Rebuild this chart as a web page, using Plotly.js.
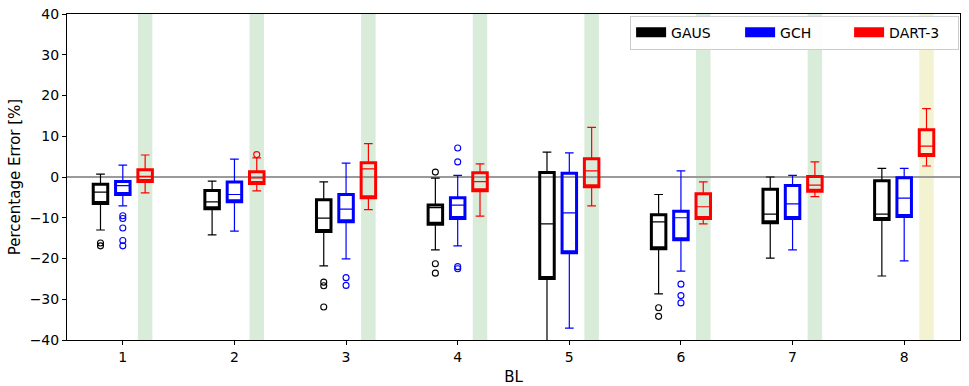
<!DOCTYPE html>
<html>
<head>
<meta charset="utf-8">
<script src="https://cdn.plot.ly/plotly-3.0.1.min.js"></script>
<style>
	html, body { margin: 0; padding: 0; background: #fff; }
	#chart { width: 969px; height: 386px; }
</style>
</head>
<body>
<div id="chart"></div>
<script>
const BL = [1, 2, 3, 4, 5, 6, 7, 8];

// GAUS
const gaus_lo  = [-13.0, -14.2, -21.8, -17.9, -44.0, -28.7, -19.9, -24.3];
const gaus_q1  = [-6.5, -7.8, -13.4, -11.6, -24.9, -17.6, -11.2, -10.4];
const gaus_med = [-3.7, -6.1, -10.1, -7.5, -11.5, -11.0, -9.1, -9.1];
const gaus_q3  = [-1.8, -3.3, -5.6, -6.9, 1.1, -9.25, -3.0, -0.9];
const gaus_hi  = [0.7, -1.0, -1.2, -0.3, 6.1, -4.3, 0.0, 2.1];
const gaus_out_bl = [1, 1, 3, 3, 3, 4, 4, 4, 6, 6];
const gaus_out    = [-16.2, -16.9, -25.8, -26.7, -31.9, 1.2, -21.3, -23.6, -32.1, -34.2];

// GCH
const gch_lo  = [-7.1, -13.3, -20.1, -16.9, -37.1, -23.1, -17.9, -20.6];
const gch_q1  = [-4.3, -6.1, -11.0, -10.2, -18.6, -15.4, -10.2, -9.7];
const gch_med = [-2.1, -4.3, -7.9, -6.9, -8.8, -10.0, -6.6, -5.2];
const gch_q3  = [-1.1, -1.2, -4.3, -5.1, 0.9, -8.4, -2.1, -0.2];
const gch_hi  = [2.9, 4.4, 3.4, 0.4, 5.9, 1.5, 0.4, 2.1];
const gch_out_bl = [1, 1, 1, 1, 1, 3, 3, 4, 4, 4, 4, 6, 6, 6];
const gch_out    = [-9.5, -10.2, -12.5, -15.6, -16.9, -24.7, -26.6, 7.1, 3.7, -22.0, -22.5, -26.3, -29.1, -30.9];

// DART-3
const dart_lo  = [-3.9, -3.4, -8.0, -9.6, -7.1, -11.5, -4.8, 2.7];
const dart_q1  = [-1.1, -1.6, -5.1, -3.4, -2.4, -10.2, -3.5, 5.3];
const dart_med = [0.15, -0.2, 2.0, -1.15, 1.5, -7.3, -2.0, 7.6];
const dart_q3  = [1.8, 1.3, 3.5, 1.05, 4.5, -4.1, 0.1, 11.6];
const dart_hi  = [5.4, 4.7, 8.2, 3.2, 12.2, -1.2, 3.7, 16.8];
const dart_out_bl = [2];
const dart_out    = [5.5];

// shaded band behind DART-3 per BL
const band_color = ['green', 'green', 'green', 'green', 'green', 'green', 'green', 'yellow'];

const BOX_W = 0.13;
const FONT = 'DejaVu Sans, sans-serif';

const series = [
	{name: 'GAUS', color: '#000000', offset: -0.2, lo: gaus_lo, q1: gaus_q1, med: gaus_med, q3: gaus_q3, hi: gaus_hi, out_bl: gaus_out_bl, out: gaus_out},
	{name: 'GCH', color: '#0000ff', offset: 0, lo: gch_lo, q1: gch_q1, med: gch_med, q3: gch_q3, hi: gch_hi, out_bl: gch_out_bl, out: gch_out},
	{name: 'DART-3', color: '#ff0000', offset: 0.2, lo: dart_lo, q1: dart_q1, med: dart_med, q3: dart_q3, hi: dart_hi, out_bl: dart_out_bl, out: dart_out}
];

const traces = [];

series.forEach(s => {
	const xs = BL.map(b => b + s.offset);
	//thin whiskers + median
	traces.push({
		type: 'box',
		x: xs,
		q1: s.q1, median: s.med, q3: s.q3,
		lowerfence: s.lo, upperfence: s.hi,
		width: BOX_W,
		whiskerwidth: 0.6,
		line: {color: s.color, width: 1.2},
		fillcolor: 'rgba(0,0,0,0)',
		showlegend: false,
		hoverinfo: 'skip'
	});
	//thick box outline
	traces.push({
		type: 'box',
		x: xs,
		q1: s.q1, median: s.q1, q3: s.q3,
		lowerfence: s.q1, upperfence: s.q3,
		width: BOX_W,
		whiskerwidth: 0,
		line: {color: s.color, width: 3},
		fillcolor: 'rgba(0,0,0,0)',
		showlegend: false,
		hoverinfo: 'skip'
	});
	//outliers
	traces.push({
		type: 'scatter',
		mode: 'markers',
		x: s.out_bl.map(b => b + s.offset),
		y: s.out,
		marker: {symbol: 'circle-open', size: 6, color: s.color, line: {width: 1.1, color: s.color}},
		showlegend: false,
		hoverinfo: 'skip'
	});
});

//legend entries
series.forEach(s => {
	traces.push({
		type: 'scatter',
		mode: 'lines',
		x: [null], y: [null],
		name: s.name,
		line: {color: s.color, width: 10},
		showlegend: true
	});
});

const shapes = [];
BL.forEach((b, i) => {
	shapes.push({
		type: 'rect',
		xref: 'x', yref: 'paper',
		x0: b + 0.2 - BOX_W / 2, x1: b + 0.2 + BOX_W / 2,
		y0: 0, y1: 1,
		fillcolor: band_color[i] === 'green' ? 'rgba(0,128,0,0.15)' : 'rgba(191,191,0,0.18)',
		line: {width: 0},
		layer: 'below'
	});
});
shapes.push({
	type: 'line',
	xref: 'paper', yref: 'y',
	x0: 0, x1: 1, y0: 0, y1: 0,
	line: {color: '#9a9a9a', width: 2},
	layer: 'below'
});

const layout = {
	width: 969,
	height: 386,
	margin: {l: 67, r: 9, t: 14, b: 46},
	paper_bgcolor: '#ffffff',
	plot_bgcolor: '#ffffff',
	font: {family: FONT, size: 14, color: '#000'},
	boxmode: 'overlay',
	showlegend: true,
	legend: {
		orientation: 'h',
		x: 0.999, xanchor: 'right',
		y: 0.995, yanchor: 'top',
		bgcolor: 'rgba(255,255,255,0.9)',
		bordercolor: '#cccccc',
		borderwidth: 1,
		font: {family: FONT, size: 14},
		entrywidth: 64,
		itemwidth: 30
	},
	xaxis: {
		range: [0.5, 8.5],
		tickvals: BL,
		ticktext: BL.map(String),
		ticks: 'outside',
		ticklen: 4,
		tickcolor: '#000',
		showline: true,
		linecolor: '#000',
		linewidth: 1,
		mirror: true,
		showgrid: false,
		zeroline: false,
		tickfont: {size: 14},
		title: {text: 'BL', font: {size: 15}, standoff: 8}
	},
	yaxis: {
		range: [-40, 40],
		dtick: 10,
		ticks: 'outside',
		ticklen: 4,
		tickcolor: '#000',
		showline: true,
		linecolor: '#000',
		linewidth: 1,
		mirror: true,
		showgrid: false,
		zeroline: false,
		tickfont: {size: 14},
		title: {text: 'Percentage Error [%]', font: {size: 15}, standoff: 5}
	},
	shapes: shapes
};

Plotly.newPlot('chart', traces, layout, {displayModeBar: false, staticPlot: true});
</script>
</body>
</html>
